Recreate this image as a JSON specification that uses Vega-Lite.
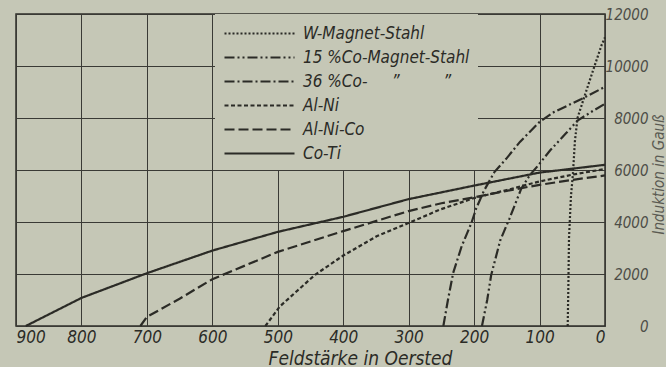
{
  "$schema": "https://vega.github.io/schema/vega-lite/v6.json",
  "width": 589,
  "height": 312,
  "autosize": {"type": "none"},
  "padding": {"left": 16, "top": 14, "right": 61, "bottom": 41},
  "background": "#c5c7b6",
  "config": {
    "view": {"stroke": "#2f2f2a", "strokeWidth": 1.5},
    "font": "DejaVu Sans Condensed, Liberation Sans Narrow, DejaVu Sans"
  },
  "data": {
    "values": [
      {"s": "W-Magnet-Stahl", "H": 57, "B": 0},
      {"s": "W-Magnet-Stahl", "H": 56, "B": 1500},
      {"s": "W-Magnet-Stahl", "H": 55, "B": 3400},
      {"s": "W-Magnet-Stahl", "H": 52, "B": 5000},
      {"s": "W-Magnet-Stahl", "H": 49, "B": 5850},
      {"s": "W-Magnet-Stahl", "H": 46, "B": 7100},
      {"s": "W-Magnet-Stahl", "H": 42, "B": 8000},
      {"s": "W-Magnet-Stahl", "H": 31, "B": 8860},
      {"s": "W-Magnet-Stahl", "H": 16, "B": 10000},
      {"s": "W-Magnet-Stahl", "H": 5, "B": 10820},
      {"s": "W-Magnet-Stahl", "H": 0, "B": 11100},
      {"s": "15 %Co-Magnet-Stahl", "H": 188, "B": 0},
      {"s": "15 %Co-Magnet-Stahl", "H": 180, "B": 1000},
      {"s": "15 %Co-Magnet-Stahl", "H": 174, "B": 1950},
      {"s": "15 %Co-Magnet-Stahl", "H": 160, "B": 3300},
      {"s": "15 %Co-Magnet-Stahl", "H": 146, "B": 4130},
      {"s": "15 %Co-Magnet-Stahl", "H": 128, "B": 5280},
      {"s": "15 %Co-Magnet-Stahl", "H": 115, "B": 5800},
      {"s": "15 %Co-Magnet-Stahl", "H": 102, "B": 6180},
      {"s": "15 %Co-Magnet-Stahl", "H": 84, "B": 6750},
      {"s": "15 %Co-Magnet-Stahl", "H": 60, "B": 7400},
      {"s": "15 %Co-Magnet-Stahl", "H": 42, "B": 7900},
      {"s": "15 %Co-Magnet-Stahl", "H": 20, "B": 8250},
      {"s": "15 %Co-Magnet-Stahl", "H": 0, "B": 8550},
      {"s": "36 %Co-", "H": 247, "B": 0},
      {"s": "36 %Co-", "H": 240, "B": 1000},
      {"s": "36 %Co-", "H": 232, "B": 2040},
      {"s": "36 %Co-", "H": 219, "B": 3070},
      {"s": "36 %Co-", "H": 204, "B": 3970},
      {"s": "36 %Co-", "H": 197, "B": 4510},
      {"s": "36 %Co-", "H": 185, "B": 5200},
      {"s": "36 %Co-", "H": 169, "B": 5920},
      {"s": "36 %Co-", "H": 151, "B": 6430},
      {"s": "36 %Co-", "H": 130, "B": 7080},
      {"s": "36 %Co-", "H": 100, "B": 7850},
      {"s": "36 %Co-", "H": 78, "B": 8230},
      {"s": "36 %Co-", "H": 36, "B": 8730},
      {"s": "36 %Co-", "H": 0, "B": 9200},
      {"s": "Al-Ni", "H": 519, "B": 0},
      {"s": "Al-Ni", "H": 497, "B": 750},
      {"s": "Al-Ni", "H": 443, "B": 1970},
      {"s": "Al-Ni", "H": 400, "B": 2710},
      {"s": "Al-Ni", "H": 349, "B": 3450},
      {"s": "Al-Ni", "H": 303, "B": 3930},
      {"s": "Al-Ni", "H": 252, "B": 4480},
      {"s": "Al-Ni", "H": 200, "B": 4920},
      {"s": "Al-Ni", "H": 150, "B": 5230},
      {"s": "Al-Ni", "H": 100, "B": 5560},
      {"s": "Al-Ni", "H": 50, "B": 5820},
      {"s": "Al-Ni", "H": 0, "B": 6040},
      {"s": "Al-Ni-Co", "H": 710, "B": 0},
      {"s": "Al-Ni-Co", "H": 700, "B": 350},
      {"s": "Al-Ni-Co", "H": 650, "B": 1050},
      {"s": "Al-Ni-Co", "H": 600, "B": 1800},
      {"s": "Al-Ni-Co", "H": 500, "B": 2850},
      {"s": "Al-Ni-Co", "H": 400, "B": 3650},
      {"s": "Al-Ni-Co", "H": 300, "B": 4420},
      {"s": "Al-Ni-Co", "H": 250, "B": 4720},
      {"s": "Al-Ni-Co", "H": 200, "B": 4950},
      {"s": "Al-Ni-Co", "H": 150, "B": 5200},
      {"s": "Al-Ni-Co", "H": 100, "B": 5430},
      {"s": "Al-Ni-Co", "H": 50, "B": 5620},
      {"s": "Al-Ni-Co", "H": 0, "B": 5790},
      {"s": "Co-Ti", "H": 885, "B": 0},
      {"s": "Co-Ti", "H": 800, "B": 1080},
      {"s": "Co-Ti", "H": 700, "B": 2030},
      {"s": "Co-Ti", "H": 600, "B": 2900},
      {"s": "Co-Ti", "H": 500, "B": 3620},
      {"s": "Co-Ti", "H": 400, "B": 4200},
      {"s": "Co-Ti", "H": 300, "B": 4880},
      {"s": "Co-Ti", "H": 200, "B": 5400},
      {"s": "Co-Ti", "H": 100, "B": 5900},
      {"s": "Co-Ti", "H": 0, "B": 6200}
    ]
  },
  "mark": {"type": "line", "strokeWidth": 2.2, "color": "#2b2b26"},
  "encoding": {
    "x": {
      "field": "H",
      "type": "quantitative",
      "scale": {"domain": [0, 900], "reverse": true, "nice": false, "zero": false},
      "axis": {
        "values": [0, 100, 200, 300, 400, 500, 600, 700, 800, 900],
        "grid": true,
        "gridColor": "#3a3a35",
        "gridWidth": 1,
        "gridOpacity": 1,
        "ticks": false,
        "domain": false,
        "labelFlush": true,
        "labelFontSize": 17,
        "labelFontStyle": "italic",
        "labelColor": "#2b2b26",
        "labelPadding": 3,
        "labelAngle": 0,
        "format": "d",
        "title": "Feldstärke in Oersted",
        "titleFontSize": 19,
        "titleFontStyle": "italic",
        "titleFontWeight": "normal",
        "titleColor": "#2b2b26",
        "titleX": 344,
        "titleY": 38,
        "titleAlign": "center",
        "titleBaseline": "alphabetic"
      }
    },
    "y": {
      "field": "B",
      "type": "quantitative",
      "scale": {"domain": [0, 12000], "nice": false},
      "axis": {
        "orient": "right",
        "values": [0, 2000, 4000, 6000, 8000, 10000, 12000],
        "grid": true,
        "gridColor": "#3a3a35",
        "gridWidth": 1,
        "gridOpacity": 1,
        "ticks": false,
        "domain": false,
        "labelAlign": "right",
        "labelPadding": 43,
        "labelFontSize": 15,
        "labelFontStyle": "italic",
        "labelColor": "#4d4d47",
        "format": "d",
        "title": "Induktion in Gauß",
        "titleAngle": 270,
        "titleFontSize": 15,
        "titleFontStyle": "italic",
        "titleFontWeight": "normal",
        "titleColor": "#5a5a52",
        "titleX": 53,
        "titleY": 160,
        "titleAlign": "center",
        "titleBaseline": "middle"
      }
    },
    "strokeDash": {
      "field": "s",
      "type": "nominal",
      "scale": {
        "domain": ["W-Magnet-Stahl", "15 %Co-Magnet-Stahl", "36 %Co-", "Al-Ni", "Al-Ni-Co", "Co-Ti"],
        "range": [[2, 2], [10, 3, 2, 3, 2, 3], [10, 3, 2, 3], [4, 2.5], [10, 4], [1, 0]]
      },
      "legend": {
        "orient": "none",
        "legendX": 199,
        "legendY": 0,
        "title": null,
        "fillColor": "#c5c7b6",
        "symbolType": "M-1,0H6",
        "symbolSize": 400,
        "symbolStrokeWidth": 2.2,
        "symbolStrokeColor": "#2b2b26",
        "symbolFillColor": "transparent",
        "labelFontSize": 17,
        "labelFontStyle": "italic",
        "labelColor": "#2b2b26",
        "labelLimit": 300,
        "labelOffset": 57,
        "padding": 8,
        "rowPadding": 4,
        "labelExpr": "datum.label == '36 %Co-' ? '36 %Co-\u00a0\u00a0\u00a0\u00a0\u00a0\u201d\u00a0\u00a0\u00a0\u00a0\u00a0\u00a0\u00a0\u00a0\u00a0\u201d' : datum.label"
      }
    }
  }
}
